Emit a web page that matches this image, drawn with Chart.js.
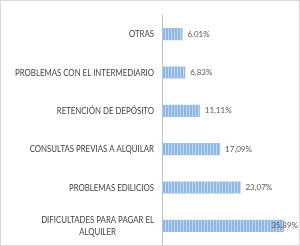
<!DOCTYPE html>
<html><head><meta charset="utf-8">
<script src="https://cdn.jsdelivr.net/npm/chart.js@4"></script>
<style>
html,body{margin:0;padding:0;background:#fff;}
#wrap{position:relative;width:300px;height:246px;box-sizing:border-box;border:1px solid #d9d9d9;}
canvas{display:block;}
</style></head><body>
<div id="wrap"><canvas id="c" width="298" height="244"></canvas></div>
<script>
const categories = [
  ["OTRAS"],
  ["PROBLEMAS CON EL INTERMEDIARIO"],
  ["RETENCIÓN DE DEPÓSITO"],
  ["CONSULTAS PREVIAS A ALQUILAR"],
  ["PROBLEMAS EDILICIOS"],
  ["DIFICULTADES PARA PAGAR EL", "ALQUILER"]
];
const values = [6.01, 6.83, 11.11, 17.09, 23.07, 35.89];
const valueLabels = ["6.01%", "6,83%", "11,11%", "17,09%", "23,07%", "35,89%"];

function stripes(){
  const p = document.createElement('canvas');
  p.width = 3; p.height = 4;
  const g = p.getContext('2d');
  g.fillStyle = '#8db6e3'; g.fillRect(0,0,3,4);
  g.fillStyle = '#c4d9f1'; g.fillRect(2,0,1,4);
  return g.createPattern(p,'repeat');
}
const ctx = document.getElementById('c').getContext('2d');

const labelPlugin = {
  id:'lbls',
  afterDatasetsDraw(chart){
    const c = chart.ctx, ys = chart.scales.y, ca = chart.chartArea;
    const meta = chart.getDatasetMeta(0);
    c.save();
    c.font = '10px Lato, sans-serif';
    c.fillStyle = '#404040';
    c.textBaseline = 'middle';
    // condense horizontally like Calibri
    const sx = 139 / c.measureText("PROBLEMAS CON EL INTERMEDIARIO").width;
    categories.forEach((lines,i)=>{
      const y = ys.getPixelForValue(i);
      const right = ca.left - 8;
      const maxW = Math.max(...lines.map(l=>c.measureText(l).width)) * sx;
      const lh = 12;
      lines.forEach((l,k)=>{
        const yy = y + (k - (lines.length-1)/2)*lh;
        const w = c.measureText(l).width * sx;
        const x0 = right - maxW/2 - w/2;
        c.save();
        c.translate(x0, yy);
        c.scale(sx, 1);
        c.textAlign = 'left';
        c.fillText(l, 0, 0);
        c.restore();
      });
    });
    c.font = '8px Lato, sans-serif';
    c.fillStyle = '#595959';
    meta.data.forEach((bar,i)=>{
      const t = valueLabels[i];
      const w = c.measureText(t).width;
      let x = bar.x + 5;
      if (x + w > ca.right) x = ca.right - w;
      c.textAlign = 'left';
      c.fillText(t, x, bar.y);
    });
    c.restore();
  }
};

new Chart(ctx, {
  type:'bar',
  data:{
    labels: categories,
    datasets:[{
      data: values,
      backgroundColor: stripes(),
      borderColor: '#9dc3e6',
      borderWidth: 1,
      borderSkipped: false,
      barThickness: 12
    }]
  },
  options:{
    indexAxis:'y',
    responsive:false,
    animation:false,
    devicePixelRatio:1,
    layout:{padding:{left:161, top:14, right:1, bottom:0}},
    plugins:{legend:{display:false}, tooltip:{enabled:false}},
    scales:{
      x:{min:0, max:40, display:false},
      y:{
        ticks:{display:false},
        grid:{display:false, drawTicks:false},
        border:{display:true, color:'#bfbfbf', width:1}
      }
    }
  },
  plugins:[labelPlugin]
});
</script>
</body></html>
